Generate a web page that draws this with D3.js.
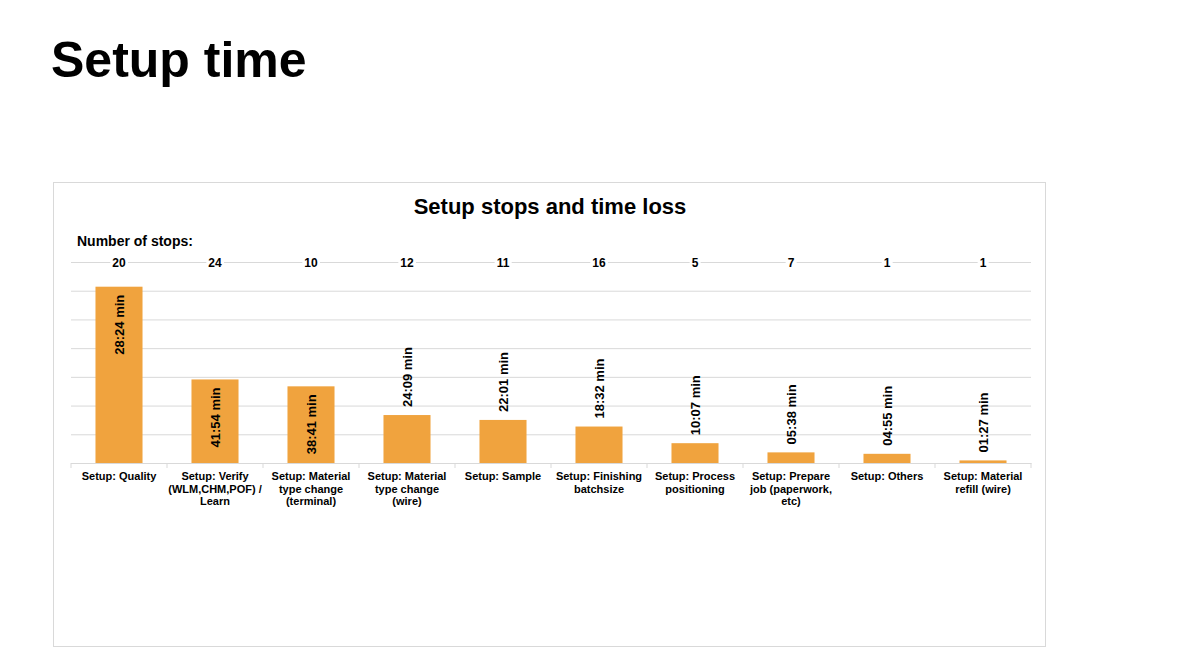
<!DOCTYPE html>
<html>
<head>
<meta charset="utf-8">
<script src="https://cdn.jsdelivr.net/npm/d3@7"></script>
<style>
  html, body { margin: 0; padding: 0; background: #fff; }
  svg { display: block; font-family: "Liberation Sans", Arial, sans-serif; }
</style>
</head>
<body>
<svg id="chart" width="1180" height="664"></svg>
<script>
// ---- data ----
const categories = [
  "Setup: Quality",
  "Setup: Verify\n(WLM,CHM,POF) /\nLearn",
  "Setup: Material\ntype change\n(terminal)",
  "Setup: Material\ntype change\n(wire)",
  "Setup: Sample",
  "Setup: Finishing\nbatchsize",
  "Setup: Process\npositioning",
  "Setup: Prepare\njob (paperwork,\netc)",
  "Setup: Others",
  "Setup: Material\nrefill (wire)"
];
const barValues = [6.14, 2.91, 2.67, 1.67, 1.50, 1.27, 0.69, 0.37, 0.32, 0.09];
const timeLabels = ["28:24 min", "41:54 min", "38:41 min", "24:09 min", "22:01 min",
                    "18:32 min", "10:07 min", "05:38 min", "04:55 min", "01:27 min"];
const stopCounts = [20, 24, 10, 12, 11, 16, 5, 7, 1, 1];
const yTicks = [0, 1, 2, 3, 4, 5, 6, 7];

// ---- layout ----
const svg = d3.select("#chart");
const plot = { left: 71, right: 1031, top: 262, bottom: 463 };
const barColor = "#F0A33E";
const gridColor = "#D9D9D9";

// Page title
svg.append("text").attr("x", 51).attr("y", 77)
  .attr("font-size", 50).attr("font-weight", "bold").attr("fill", "#000")
  .text("Setup time");

// Chart frame
svg.append("rect").attr("x", 53.5).attr("y", 182.5).attr("width", 992).attr("height", 464)
  .attr("fill", "#fff").attr("stroke", gridColor).attr("stroke-width", 1);

// Chart title
svg.append("text").attr("x", 550).attr("y", 214).attr("text-anchor", "middle")
  .attr("font-size", 22).attr("font-weight", "bold").attr("fill", "#000")
  .text("Setup stops and time loss");

svg.append("text").attr("x", 77).attr("y", 246)
  .attr("font-size", 14).attr("font-weight", "bold").attr("fill", "#000")
  .text("Number of stops:");

const x = d3.scaleBand().domain(d3.range(categories.length))
  .range([plot.left, plot.right]).paddingInner(0.51).paddingOuter(0.255);
const xOuter = d3.scaleBand().domain(d3.range(categories.length))
  .range([plot.left, plot.right]);
const y = d3.scaleLinear().domain([0, 7]).range([plot.bottom, plot.top]);

// Gridlines via axis
const yAxis = d3.axisLeft(y).tickValues(yTicks).tickSize(-(plot.right - plot.left)).tickFormat("");
const gy = svg.append("g").attr("transform", `translate(${plot.left},0)`).call(yAxis);
gy.select(".domain").remove();
gy.selectAll(".tick line").attr("stroke", gridColor).attr("stroke-width", 1);

// Bars
svg.append("g").selectAll("rect").data(barValues).join("rect")
  .attr("x", (d, i) => x(i))
  .attr("width", x.bandwidth())
  .attr("y", d => y(d))
  .attr("height", d => y(0) - y(d))
  .attr("fill", barColor);

// Baseline with category separator ticks
const xAxis = d3.axisBottom(xOuter).tickSize(0).tickFormat("");
const gx = svg.append("g").attr("transform", `translate(0,${plot.bottom})`).call(xAxis);
gx.select(".domain").attr("stroke", gridColor);
gx.selectAll(".tick").remove();
const seps = d3.range(categories.length + 1).map(i => plot.left + i * xOuter.step());
gx.selectAll("line.sep").data(seps).join("line").attr("class", "sep")
  .attr("x1", d => d).attr("x2", d => d).attr("y1", 0).attr("y2", 5)
  .attr("stroke", gridColor);

// Category labels
const catG = svg.append("g");
categories.forEach((c, i) => {
  const t = catG.append("text")
    .attr("x", xOuter(i) + xOuter.bandwidth() / 2)
    .attr("y", 480)
    .attr("text-anchor", "middle")
    .attr("font-size", 11).attr("font-weight", "bold").attr("fill", "#000");
  c.split("\n").forEach((line, k) => {
    t.append("tspan").attr("x", xOuter(i) + xOuter.bandwidth() / 2)
      .attr("dy", k === 0 ? 0 : 12.6).text(line);
  });
});

// Stop counts on top gridline
const stopG = svg.append("g");
stopCounts.forEach((s, i) => {
  const cx = xOuter(i) + xOuter.bandwidth() / 2;
  const t = stopG.append("text").attr("x", cx).attr("y", plot.top + 4.5)
    .attr("text-anchor", "middle").attr("font-size", 12).attr("font-weight", "bold")
    .attr("fill", "#000").text(s);
  const bb = t.node().getBBox();
  stopG.insert("rect", "text").attr("x", bb.x - 2).attr("y", bb.y).attr("width", bb.width + 4)
    .attr("height", bb.height).attr("fill", "#fff");
});

// Value labels (rotated)
const lblG = svg.append("g");
barValues.forEach((v, i) => {
  const cx = x(i) + x.bandwidth() / 2;
  const top = y(v);
  const h = y(0) - top;
  const t = lblG.append("text").attr("font-size", 13).attr("font-weight", "bold")
    .attr("fill", "#000").attr("dominant-baseline", "central").text(timeLabels[i]);
  const len = t.node().getComputedTextLength();
  let anchor, py;
  if (h >= len + 16) { anchor = "end"; py = top + 8; }
  else { anchor = "start"; py = top - 8; }
  t.attr("text-anchor", anchor)
   .attr("transform", `translate(${cx},${py}) rotate(-90)`);
});
</script>
</body>
</html>
